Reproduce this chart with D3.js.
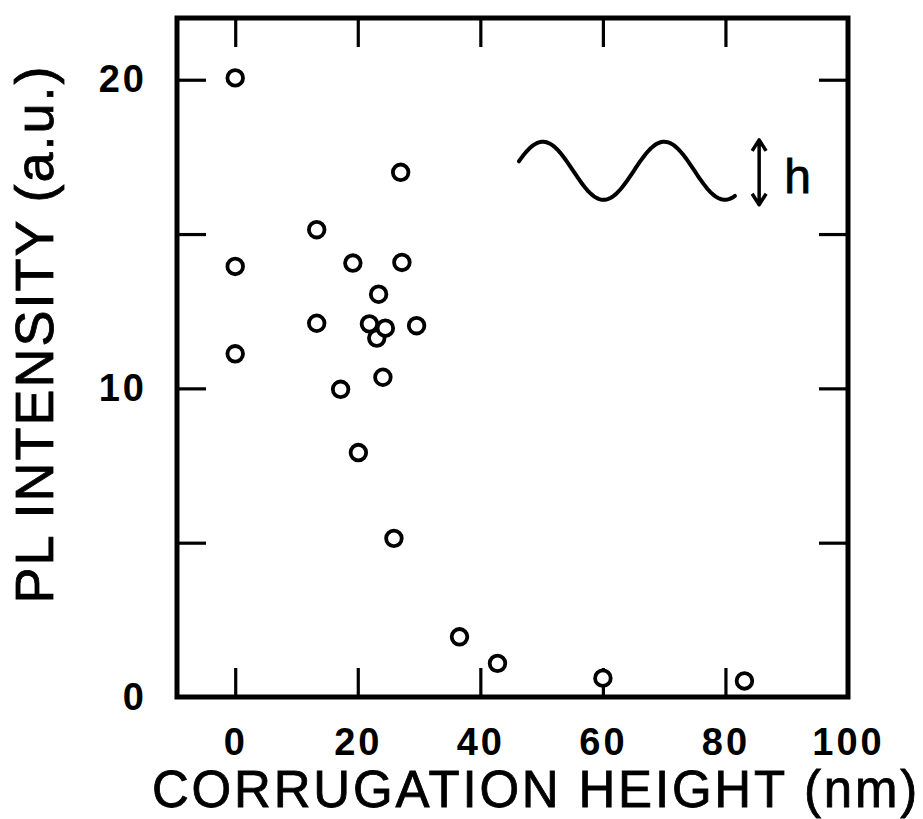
<!DOCTYPE html>
<html>
<head>
<meta charset="utf-8">
<script src="https://cdn.jsdelivr.net/npm/d3@7"></script>
<style>
  body { margin: 0; background: #fff; }
  svg { display: block; font-family: 'Liberation Sans', Arial, Helvetica, sans-serif; }
</style>
</head>
<body>
<div id="container"></div>
<script>
// corrugation height (nm) and PL intensity (a.u.)
const heights = [0, 0, 0, 13.3, 13.3, 17.2, 19.2, 20.1, 21.9, 23.1, 23.4, 24.1, 24.5, 25.9, 27.0, 27.2, 29.6, 36.6, 42.8, 60.0, 83.1];
const intensities = [20.06, 13.95, 11.12, 15.14, 12.11, 9.97, 14.06, 7.92, 12.09, 11.63, 13.05, 10.36, 11.95, 5.14, 17.0, 14.08, 12.03, 1.95, 1.09, 0.61, 0.52];

const xTicks = [0, 20, 40, 60, 80, 100];
const yTicks = [0, 5, 10, 15, 20];
const yLabels = [0, 10, 20];

const xTitle = 'CORRUGATION HEIGHT (nm)';
const yTitle = 'PL INTENSITY (a.u.)';

const W = 923, H = 819;
const margin = { top: 18, right: 75, bottom: 122, left: 177 };
const fontStack = "'Liberation Sans', Arial, Helvetica, sans-serif";

const svg = d3.select('#container').append('svg')
  .attr('width', W)
  .attr('height', H);

const x = d3.scaleLinear().domain([-9.5, 100]).range([margin.left, W - margin.right]);
const y = d3.scaleLinear().domain([0, 22]).range([H - margin.bottom, margin.top]);

const tickLen = 29;

// bottom axis with labels
const axBottom = svg.append('g')
  .attr('transform', `translate(0, ${y(0)})`)
  .call(d3.axisBottom(x).tickValues(xTicks).tickSize(-tickLen).tickPadding(31).tickFormat(d3.format('d')));
axBottom.select('.domain').remove();
axBottom.selectAll('.tick').filter((d) => d === 100).select('line').remove();

// top axis, ticks only
const axTop = svg.append('g')
  .attr('transform', `translate(0, ${y(22)})`)
  .call(d3.axisTop(x).tickValues(xTicks.filter((d) => d < 100)).tickSize(-tickLen).tickFormat(''));
axTop.select('.domain').remove();

// left axis
const axLeft = svg.append('g')
  .attr('transform', `translate(${x(-9.5)}, 0)`)
  .call(d3.axisLeft(y).tickValues(yTicks).tickSize(-tickLen).tickPadding(30)
    .tickFormat((d) => yLabels.includes(d) ? d : ''));
axLeft.select('.domain').remove();
axLeft.selectAll('.tick').filter((d) => d === 0).select('line').remove();

// right axis, ticks only
const axRight = svg.append('g')
  .attr('transform', `translate(${x(100)}, 0)`)
  .call(d3.axisRight(y).tickValues(yTicks.filter((d) => d > 0)).tickSize(-tickLen).tickFormat(''));
axRight.select('.domain').remove();

[axBottom, axTop, axLeft, axRight].forEach((g) => g.attr('font-family', fontStack));

svg.selectAll('.tick line')
  .attr('stroke', '#000')
  .attr('stroke-width', 3.2);

svg.selectAll('.tick text')
  .attr('fill', '#000')
  .style('font-family', fontStack)
  .style('font-size', '38px')
  .style('font-weight', 'bold')
  .style('letter-spacing', '3px');

// frame
svg.append('rect')
  .attr('x', x(-9.5))
  .attr('y', y(22))
  .attr('width', x(100) - x(-9.5))
  .attr('height', y(0) - y(22))
  .attr('fill', 'none')
  .attr('stroke', '#000')
  .attr('stroke-width', 5);

// data points
svg.append('g')
  .selectAll('circle')
  .data(heights)
  .enter()
  .append('circle')
  .attr('cx', (d) => x(d))
  .attr('cy', (d, i) => y(intensities[i]))
  .attr('r', 7.8)
  .attr('fill', '#fff')
  .attr('stroke', '#000')
  .attr('stroke-width', 3.8);

// inset: corrugation sketch with height arrow
const wave = d3.range(46.3, 81.6, 0.25).map((t) => [t, 17.05 + 0.94 * Math.cos(2 * Math.PI * (t - 50.2) / 19.8)]);
svg.append('path')
  .datum(wave)
  .attr('d', d3.line().x((d) => x(d[0])).y((d) => y(d[1])))
  .attr('fill', 'none')
  .attr('stroke', '#000')
  .attr('stroke-width', 4)
  .attr('stroke-linecap', 'round');

const ax = x(85.5), ay1 = y(18.05), ay2 = y(15.95);
svg.append('path')
  .attr('d', `M${ax},${ay1}V${ay2}M${ax - 7},${ay1 + 11}L${ax},${ay1}L${ax + 7},${ay1 + 11}M${ax - 7},${ay2 - 11}L${ax},${ay2}L${ax + 7},${ay2 - 11}`)
  .attr('fill', 'none')
  .attr('stroke', '#000')
  .attr('stroke-width', 3.5)
  .attr('stroke-linejoin', 'round');

svg.append('text')
  .attr('x', x(89.6))
  .attr('y', y(16.34))
  .attr('stroke', '#000')
  .attr('stroke-width', 0.8)
  .style('font-size', '48px')
  .text('h');

// axis titles
svg.append('text')
  .attr('x', 536)
  .attr('y', 807)
  .attr('text-anchor', 'middle')
  .attr('stroke', '#000')
  .attr('stroke-width', 0.8)
  .style('font-size', '51px')
  .style('letter-spacing', '2.8px')
  .text(xTitle);

svg.append('text')
  .attr('transform', 'translate(53, 334) rotate(-90)')
  .attr('text-anchor', 'middle')
  .attr('stroke', '#000')
  .attr('stroke-width', 0.8)
  .style('font-size', '54px')
  .style('letter-spacing', '2px')
  .text(yTitle);
</script>
</body>
</html>
